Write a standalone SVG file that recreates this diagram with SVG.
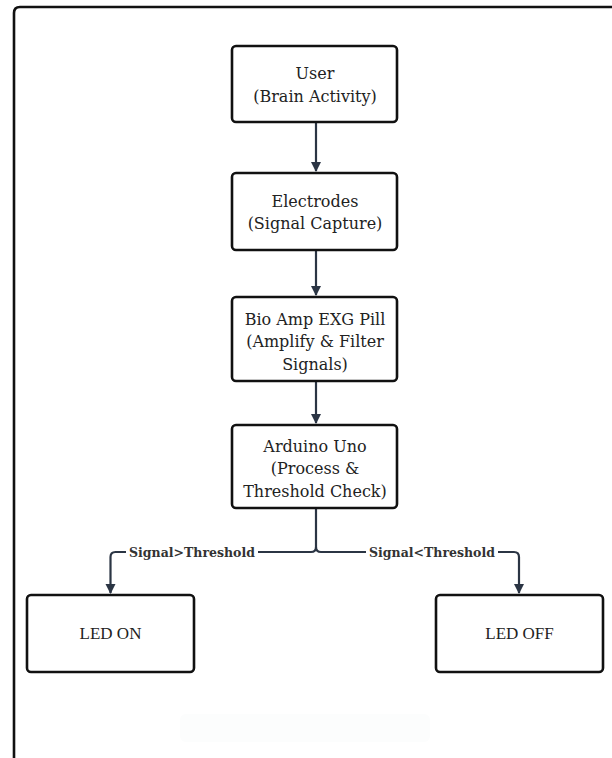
<svg xmlns="http://www.w3.org/2000/svg" width="612" height="758" viewBox="0 0 612 758">
<defs>
<style>
.box{fill:#fff;stroke:#111;stroke-width:2.6}
.t{font-family:"DejaVu Serif","Liberation Serif",serif;font-size:16px;fill:#222;text-anchor:middle}
.tl{font-family:"Liberation Serif","Times New Roman",serif;font-size:17px;fill:#222;text-anchor:middle}
.lbl{font-family:"DejaVu Serif","Liberation Serif",serif;font-size:12.5px;font-weight:bold;fill:#333;text-anchor:middle}
.con{fill:none;stroke:#2b3544;stroke-width:2.2}
</style>
<marker id="ah" viewBox="0 0 10 10" refX="9" refY="5" markerWidth="10" markerHeight="11" markerUnits="userSpaceOnUse" orient="auto">
<path d="M0,0 L10,5 L0,10 z" fill="#2b3544"/>
</marker>
</defs>
<rect width="612" height="758" fill="#fff"/>
<path d="M14,758 L14,13 Q14,7 20,7 L612,7" fill="none" stroke="#111" stroke-width="2.6"/>
<rect x="180" y="714" width="250" height="28" rx="6" fill="#fcfdfd"/>
<g id="connectors">
<path class="con" d="M316,122 L316,171" marker-end="url(#ah)"/>
<path class="con" d="M316,250 L316,295" marker-end="url(#ah)"/>
<path class="con" d="M316,381 L316,423" marker-end="url(#ah)"/>
<path class="con" d="M316,508 L316,547 Q316,552 311,552 L115.5,552 Q110.5,552 110.5,557 L110.5,593" marker-end="url(#ah)"/>
<path class="con" d="M316,547 Q316,552 321,552 L514,552 Q519,552 519,557 L519,593" marker-end="url(#ah)"/>
<rect x="126" y="543" width="132" height="18" fill="#fff"/>
<text class="lbl" x="192" y="556.5">Signal&gt;Threshold</text>
<rect x="366" y="543" width="132" height="18" fill="#fff"/>
<text class="lbl" x="432" y="556.5">Signal&lt;Threshold</text>
</g>
<g id="user">
<rect class="box" x="232" y="46" width="165" height="76" rx="4"/>
<text class="t" x="315" y="79">User</text>
<text class="t" x="315" y="102">(Brain Activity)</text>
</g>
<g id="electrodes">
<rect class="box" x="232" y="173" width="165" height="77" rx="4"/>
<text class="t" x="315" y="207">Electrodes</text>
<text class="t" x="315" y="229">(Signal Capture)</text>
</g>
<g id="bioamp">
<rect class="box" x="232" y="297" width="165" height="84" rx="4"/>
<text class="t" x="315" y="325">Bio Amp EXG Pill</text>
<text class="t" x="315" y="347">(Amplify &amp; Filter</text>
<text class="t" x="315" y="370">Signals)</text>
</g>
<g id="arduino">
<rect class="box" x="232" y="425" width="165" height="83" rx="4"/>
<text class="t" x="315" y="452">Arduino Uno</text>
<text class="t" x="315" y="474">(Process &amp;</text>
<text class="t" x="315" y="497">Threshold Check)</text>
</g>
<g id="led-on">
<rect class="box" x="27" y="595" width="167" height="77" rx="4"/>
<text class="tl" x="110.5" y="639">LED ON</text>
</g>
<g id="led-off">
<rect class="box" x="436" y="595" width="167" height="77" rx="4"/>
<text class="tl" x="519.5" y="639">LED OFF</text>
</g>
</svg>
